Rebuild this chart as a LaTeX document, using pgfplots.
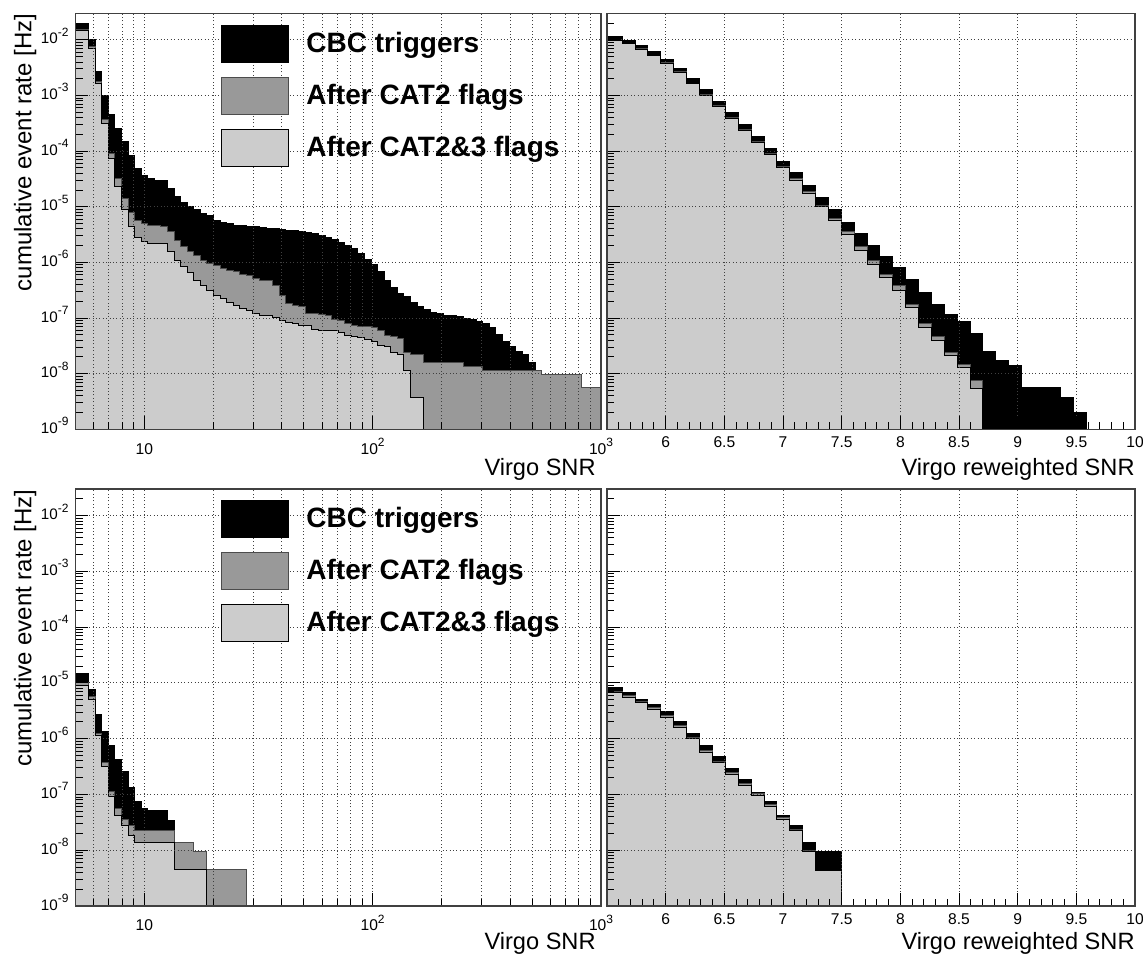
\documentclass[border=0pt]{standalone}
\usepackage{pgfplots}
\pgfplotsset{compat=1.18}
\usepackage{fontspec}
\setmainfont{Liberation Sans}
\definecolor{cMid}{gray}{0.6}
\definecolor{cLight}{gray}{0.8}
\newcommand\supx[1]{\raisebox{0.5em}{\fontsize{6}{6}\selectfont #1}}
\pgfplotsset{every axis/.append style={
    scale only axis,
    axis on top,
    tick align=inside,
    xtick pos=left, ytick pos=left,
    major tick length=6.5pt, minor tick length=3.6pt,
    tick style={black, line width=0.45pt},
    axis line style={black!75, line width=0.8pt},
    major grid style={black!75, line width=0.45pt, dash pattern=on 0.5pt off 1.2pt},
    minor grid style={black!75, line width=0.45pt, dash pattern=on 0.5pt off 1.2pt},
}}
\begin{document}
\begin{tikzpicture}
\path[use as bounding box] (0,0) rectangle (571.5pt,477.5pt);

% ---------------- top left ----------------
\begin{axis}[at={(37.75pt,262.85pt)}, anchor=south west, width=262.75pt, height=208pt,
    xmode=log, ymode=log, xmin=5, xmax=1000, ymin=1e-9, ymax=3e-2,
    ymajorgrids=true, xmajorgrids=true, xminorgrids=true,
    xtick={10,100,1000},
    xticklabels={10,10\supx{2},10\supx{3}},
    minor xtick={6,7,8,9,20,30,40,50,60,70,80,90,200,300,400,500,600,700,800,900},
    xticklabel style={font=\fontsize{7.8}{8}\selectfont, anchor=base, yshift=-12.4pt},
    ytick={1e-9,1e-8,1e-7,1e-6,1e-5,1e-4,1e-3,1e-2},
    yticklabels={10\supx{-9},10\supx{-8},10\supx{-7},10\supx{-6},10\supx{-5},10\supx{-4},10\supx{-3},10\supx{-2}},
    yticklabel style={font=\fontsize{7.6}{8}\selectfont, anchor=base east, yshift=-2pt},
    minor ytick={2e-9,3e-9,4e-9,5e-9,6e-9,7e-9,8e-9,9e-9,2e-8,3e-8,4e-8,5e-8,6e-8,7e-8,8e-8,9e-8,2e-7,3e-7,4e-7,5e-7,6e-7,7e-7,8e-7,9e-7,2e-6,3e-6,4e-6,5e-6,6e-6,7e-6,8e-6,9e-6,2e-5,3e-5,4e-5,5e-5,6e-5,7e-5,8e-5,9e-5,2e-4,3e-4,4e-4,5e-4,6e-4,7e-4,8e-4,9e-4,2e-3,3e-3,4e-3,5e-3,6e-3,7e-3,8e-3,9e-3,2e-2,3e-2},
    legend image code/.code={\draw[#1] (0pt,-9.25pt) rectangle (33.5pt,9.25pt);},
    legend cell align=left,
    legend style={at={(0.276,0.974)}, anchor=north west, draw=none, fill=none,
      inner sep=0pt, row sep=7pt, column sep=6.75pt,
      font=\bfseries\fontsize{14}{16}\selectfont},
  ]
\addplot[fill=black, draw=black, line width=0.5pt, const plot mark left] coordinates {(5,1e-9)(5,1.95e-2)(5.707,1e-2)(6.098,2.69e-3)(6.516,1.02e-3)(6.962,4.47e-4)(7.438,2.57e-4)(7.947,1.48e-4)(8.493,8.51e-5)(9.074,4.90e-5)(9.696,3.63e-5)(10.36,3.24e-5)(11.069,3.02e-5)(12.637,2.09e-5)(13.502,1.51e-5)(14.427,1.20e-5)(15.415,1.00e-5)(16.47,8.91e-6)(17.598,7.59e-6)(18.803,7.08e-6)(20.091,5.62e-6)(21.467,5.13e-6)(22.937,4.90e-6)(24.508,4.68e-6)(26.186,4.57e-6)(27.979,4.37e-6)(31.943,4.27e-6)(34.131,4.07e-6)(38.966,3.98e-6)(41.634,3.80e-6)(44.485,3.72e-6)(47.532,3.55e-6)(50.787,3.39e-6)(54.265,3.24e-6)(57.981,3.09e-6)(61.952,2.82e-6)(66.195,2.63e-6)(70.728,2.24e-6)(75.571,2.04e-6)(80.747,1.78e-6)(86.276,1.45e-6)(92.184,1.15e-6)(98.47,9.33e-7)(105.21,6.76e-7)(112.41,4.79e-7)(120.11,3.55e-7)(128.34,2.75e-7)(137.13,2.40e-7)(146.52,1.91e-7)(156.55,1.58e-7)(167.27,1.41e-7)(178.73,1.26e-7)(190.96,1.20e-7)(204.04,1.12e-7)(218.01,1.10e-7)(232.94,1.05e-7)(248.89,1.00e-7)(265.93,9.55e-8)(284.14,8.71e-8)(303.6,7.94e-8)(324.39,6.76e-8)(346.6,5.01e-8)(370.33,3.80e-8)(395.69,3.02e-8)(422.79,2.51e-8)(451.74,2.19e-8)(482.67,1.62e-8)(515.72,1.15e-8)(551.03,9.55e-9)(819.89,5.62e-9)(1000,5.62e-9)(1000,1e-9)} -- cycle;
\addlegendentry{CBC triggers}
\addplot[fill=cMid, draw=black!70, line width=0.5pt, const plot mark left] coordinates {(5,1e-9)(5,1.51e-2)(5.707,7.59e-3)(6.098,1.78e-3)(6.516,3.63e-4)(6.962,9.12e-5)(7.438,3.24e-5)(7.947,1.41e-5)(8.493,7.94e-6)(9.074,5.62e-6)(9.696,5.01e-6)(10.36,4.68e-6)(11.827,4.47e-6)(12.637,3.55e-6)(13.502,2.51e-6)(14.427,1.95e-6)(15.415,1.55e-6)(16.47,1.32e-6)(17.598,1.10e-6)(18.803,9.55e-7)(20.091,8.71e-7)(21.467,7.76e-7)(22.937,7.24e-7)(24.508,6.76e-7)(26.186,6.17e-7)(27.979,5.75e-7)(29.896,5.13e-7)(31.943,4.79e-7)(36.468,3.89e-7)(38.966,2.51e-7)(41.634,1.82e-7)(44.485,1.66e-7)(47.532,1.58e-7)(50.787,1.20e-7)(57.981,1.17e-7)(61.952,1.12e-7)(66.195,9.55e-8)(70.728,8.91e-8)(75.571,7.94e-8)(80.747,7.41e-8)(86.276,6.92e-8)(98.47,6.76e-8)(105.21,6.03e-8)(112.41,4.90e-8)(120.11,4.57e-8)(128.34,4.27e-8)(137.13,2.45e-8)(146.52,2.24e-8)(167.27,1.62e-8)(178.73,1.58e-8)(248.89,1.32e-8)(303.6,1.12e-8)(551.03,9.55e-9)(819.89,5.62e-9)(1000,5.62e-9)(1000,1e-9)} -- cycle;
\addlegendentry{After CAT2 flags}
\addplot[fill=cLight, draw=black, line width=0.5pt, const plot mark left] coordinates {(5,1e-9)(5,1.45e-2)(5.707,6.92e-3)(6.098,1.62e-3)(6.516,3.09e-4)(6.962,7.24e-5)(7.438,2.34e-5)(7.947,8.91e-6)(8.493,4.47e-6)(9.074,2.75e-6)(9.696,2.34e-6)(10.36,2.19e-6)(12.637,1.55e-6)(13.502,1.10e-6)(14.427,8.32e-7)(15.415,6.46e-7)(16.47,4.79e-7)(17.598,3.80e-7)(18.803,3.09e-7)(20.091,2.57e-7)(21.467,2.24e-7)(22.937,1.91e-7)(24.508,1.66e-7)(26.186,1.48e-7)(27.979,1.38e-7)(29.896,1.23e-7)(31.943,1.12e-7)(34.131,1.10e-7)(36.468,1.02e-7)(38.966,8.91e-8)(41.634,8.32e-8)(44.485,7.94e-8)(47.532,7.41e-8)(50.787,7.24e-8)(54.265,6.31e-8)(57.981,6.03e-8)(70.728,5.50e-8)(75.571,4.90e-8)(80.747,4.57e-8)(86.276,4.47e-8)(92.184,4.17e-8)(98.47,3.72e-8)(105.21,3.24e-8)(112.41,3.02e-8)(120.11,2.45e-8)(128.34,2.24e-8)(137.13,1.12e-8)(146.52,3.72e-9)(167.27,3.72e-9)(167.27,1e-9)} -- cycle;
\addlegendentry{After CAT2\&3 flags}
\end{axis}

% ---------------- top right ----------------
\begin{axis}[at={(303.5pt,262.85pt)}, anchor=south west, width=264pt, height=208pt,
    ymode=log, xmin=5.5, xmax=10, ymin=1e-9, ymax=3e-2,
    ymajorgrids=true, xmajorgrids=true,
    xtick={6,6.5,7,7.5,8,8.5,9,9.5,10},
    xticklabels={6,6.5,7,7.5,8,8.5,9,9.5,10},
    xticklabel style={font=\fontsize{7.8}{8}\selectfont, anchor=base, yshift=-9.2pt},
    minor xtick={5.6,5.7,5.8,5.9,6.1,6.2,6.3,6.4,6.6,6.7,6.8,6.9,7.1,7.2,7.3,7.4,7.6,7.7,7.8,7.9,8.1,8.2,8.3,8.4,8.6,8.7,8.8,8.9,9.1,9.2,9.3,9.4,9.6,9.7,9.8,9.9},
    ytick={1e-9,1e-8,1e-7,1e-6,1e-5,1e-4,1e-3,1e-2},
    yticklabels={},
    minor ytick={2e-9,3e-9,4e-9,5e-9,6e-9,7e-9,8e-9,9e-9,2e-8,3e-8,4e-8,5e-8,6e-8,7e-8,8e-8,9e-8,2e-7,3e-7,4e-7,5e-7,6e-7,7e-7,8e-7,9e-7,2e-6,3e-6,4e-6,5e-6,6e-6,7e-6,8e-6,9e-6,2e-5,3e-5,4e-5,5e-5,6e-5,7e-5,8e-5,9e-5,2e-4,3e-4,4e-4,5e-4,6e-4,7e-4,8e-4,9e-4,2e-3,3e-3,4e-3,5e-3,6e-3,7e-3,8e-3,9e-3,2e-2,3e-2},
  ]
\addplot[fill=black, draw=black, line width=0.5pt, const plot mark left] coordinates {(5.5,1e-9)(5.5,1.15e-2)(5.63,9.77e-3)(5.74,7.76e-3)(5.849,6.17e-3)(5.959,4.47e-3)(6.069,3.02e-3)(6.179,2.00e-3)(6.289,1.26e-3)(6.398,7.76e-4)(6.508,5.01e-4)(6.618,3.02e-4)(6.728,1.86e-4)(6.838,1.12e-4)(6.947,6.61e-5)(7.057,4.07e-5)(7.167,2.45e-5)(7.277,1.48e-5)(7.387,8.91e-6)(7.496,5.25e-6)(7.606,3.31e-6)(7.716,2.00e-6)(7.826,1.26e-6)(7.936,7.94e-7)(8.045,5.01e-7)(8.155,2.88e-7)(8.265,1.78e-7)(8.375,1.17e-7)(8.485,8.71e-8)(8.594,5.37e-8)(8.704,2.51e-8)(8.814,1.74e-8)(8.924,1.38e-8)(9.034,5.62e-9)(9.363,3.72e-9)(9.473,2.00e-9)(9.583,2.00e-9)(9.583,1e-9)} -- cycle;
\addplot[fill=cMid, draw=black!70, line width=0.5pt, const plot mark left] coordinates {(5.5,1e-9)(5.5,9.8e-3)(5.63,8.7e-3)(5.74,6.9e-3)(5.849,5.3e-3)(5.959,3.9e-3)(6.069,2.65e-3)(6.179,1.67e-3)(6.289,1.06e-3)(6.398,6.6e-4)(6.508,4.1e-4)(6.618,2.45e-4)(6.728,1.48e-4)(6.838,9.1e-5)(6.947,5.3e-5)(7.057,3.2e-5)(7.167,1.86e-5)(7.277,1.07e-5)(7.387,6.2e-6)(7.496,3.63e-6)(7.606,1.91e-6)(7.716,1.07e-6)(7.826,6.17e-7)(7.936,3.80e-7)(8.045,1.78e-7)(8.155,7.94e-8)(8.265,4.57e-8)(8.375,2.40e-8)(8.485,1.48e-8)(8.594,7.59e-9)(8.704,7.59e-9)(8.704,1e-9)} -- cycle;
\addplot[fill=cLight, draw=black, line width=0.5pt, const plot mark left] coordinates {(5.5,1e-9)(5.5,9.55e-3)(5.63,8.51e-3)(5.74,6.76e-3)(5.849,5.13e-3)(5.959,3.80e-3)(6.069,2.57e-3)(6.179,1.62e-3)(6.289,1.02e-3)(6.398,6.31e-4)(6.508,3.89e-4)(6.618,2.34e-4)(6.728,1.41e-4)(6.838,8.71e-5)(6.947,5.01e-5)(7.057,3.02e-5)(7.167,1.74e-5)(7.277,1.00e-5)(7.387,5.75e-6)(7.496,3.16e-6)(7.606,1.66e-6)(7.716,9.33e-7)(7.826,5.37e-7)(7.936,3.09e-7)(8.045,1.55e-7)(8.155,6.76e-8)(8.265,3.98e-8)(8.375,2.09e-8)(8.485,1.29e-8)(8.594,5.50e-9)(8.704,5.50e-9)(8.704,1e-9)} -- cycle;
\end{axis}

% ---------------- bottom left ----------------
\begin{axis}[at={(37.75pt,24.5pt)}, anchor=south west, width=262.75pt, height=208.5pt,
    xmode=log, ymode=log, xmin=5, xmax=1000, ymin=1e-9, ymax=3e-2,
    ymajorgrids=true, xmajorgrids=true, xminorgrids=true,
    xtick={10,100,1000},
    xticklabels={10,10\supx{2},10\supx{3}},
    minor xtick={6,7,8,9,20,30,40,50,60,70,80,90,200,300,400,500,600,700,800,900},
    xticklabel style={font=\fontsize{7.8}{8}\selectfont, anchor=base, yshift=-12.4pt},
    ytick={1e-9,1e-8,1e-7,1e-6,1e-5,1e-4,1e-3,1e-2},
    yticklabels={10\supx{-9},10\supx{-8},10\supx{-7},10\supx{-6},10\supx{-5},10\supx{-4},10\supx{-3},10\supx{-2}},
    yticklabel style={font=\fontsize{7.6}{8}\selectfont, anchor=base east, yshift=-2pt},
    minor ytick={2e-9,3e-9,4e-9,5e-9,6e-9,7e-9,8e-9,9e-9,2e-8,3e-8,4e-8,5e-8,6e-8,7e-8,8e-8,9e-8,2e-7,3e-7,4e-7,5e-7,6e-7,7e-7,8e-7,9e-7,2e-6,3e-6,4e-6,5e-6,6e-6,7e-6,8e-6,9e-6,2e-5,3e-5,4e-5,5e-5,6e-5,7e-5,8e-5,9e-5,2e-4,3e-4,4e-4,5e-4,6e-4,7e-4,8e-4,9e-4,2e-3,3e-3,4e-3,5e-3,6e-3,7e-3,8e-3,9e-3,2e-2,3e-2},
    legend image code/.code={\draw[#1] (0pt,-9.25pt) rectangle (33.5pt,9.25pt);},
    legend cell align=left,
    legend style={at={(0.276,0.974)}, anchor=north west, draw=none, fill=none,
      inner sep=0pt, row sep=7pt, column sep=6.75pt,
      font=\bfseries\fontsize{14}{16}\selectfont},
  ]
\addplot[fill=black, draw=black, line width=0.5pt, const plot mark left] coordinates {(5,1e-9)(5,1.48e-5)(5.707,7.76e-6)(6.098,2.75e-6)(6.516,1.32e-6)(6.962,7.41e-7)(7.438,4.17e-7)(7.947,2.63e-7)(8.493,1.32e-7)(9.074,7.41e-8)(9.696,5.62e-8)(10.36,5.13e-8)(12.637,3.39e-8)(13.502,1.35e-8)(16.47,9.33e-9)(18.803,4.57e-9)(27.979,4.57e-9)(27.979,1e-9)} -- cycle;
\addlegendentry{CBC triggers}
\addplot[fill=cMid, draw=black!70, line width=0.5pt, const plot mark left] coordinates {(5,1e-9)(5,1.00e-5)(5.707,5.62e-6)(6.098,1.26e-6)(6.516,3.80e-7)(6.962,1.12e-7)(7.438,5.50e-8)(7.947,3.55e-8)(8.493,2.82e-8)(9.074,2.29e-8)(13.502,1.35e-8)(16.47,9.33e-9)(18.803,4.57e-9)(27.979,4.57e-9)(27.979,1e-9)} -- cycle;
\addlegendentry{After CAT2 flags}
\addplot[fill=cLight, draw=black, line width=0.5pt, const plot mark left] coordinates {(5,1e-9)(5,9.12e-6)(5.707,5.01e-6)(6.098,1.15e-6)(6.516,3.24e-7)(6.962,9.12e-8)(7.438,4.27e-8)(7.947,2.82e-8)(8.493,1.86e-8)(9.074,1.35e-8)(13.502,4.57e-9)(18.803,4.57e-9)(18.803,1e-9)} -- cycle;
\addlegendentry{After CAT2\&3 flags}
\end{axis}

% ---------------- bottom right ----------------
\begin{axis}[at={(303.5pt,24.5pt)}, anchor=south west, width=264pt, height=208.5pt,
    ymode=log, xmin=5.5, xmax=10, ymin=1e-9, ymax=3e-2,
    ymajorgrids=true, xmajorgrids=true,
    xtick={6,6.5,7,7.5,8,8.5,9,9.5,10},
    xticklabels={6,6.5,7,7.5,8,8.5,9,9.5,10},
    xticklabel style={font=\fontsize{7.8}{8}\selectfont, anchor=base, yshift=-9.2pt},
    minor xtick={5.6,5.7,5.8,5.9,6.1,6.2,6.3,6.4,6.6,6.7,6.8,6.9,7.1,7.2,7.3,7.4,7.6,7.7,7.8,7.9,8.1,8.2,8.3,8.4,8.6,8.7,8.8,8.9,9.1,9.2,9.3,9.4,9.6,9.7,9.8,9.9},
    ytick={1e-9,1e-8,1e-7,1e-6,1e-5,1e-4,1e-3,1e-2},
    yticklabels={},
    minor ytick={2e-9,3e-9,4e-9,5e-9,6e-9,7e-9,8e-9,9e-9,2e-8,3e-8,4e-8,5e-8,6e-8,7e-8,8e-8,9e-8,2e-7,3e-7,4e-7,5e-7,6e-7,7e-7,8e-7,9e-7,2e-6,3e-6,4e-6,5e-6,6e-6,7e-6,8e-6,9e-6,2e-5,3e-5,4e-5,5e-5,6e-5,7e-5,8e-5,9e-5,2e-4,3e-4,4e-4,5e-4,6e-4,7e-4,8e-4,9e-4,2e-3,3e-3,4e-3,5e-3,6e-3,7e-3,8e-3,9e-3,2e-2,3e-2},
  ]
\addplot[fill=black, draw=black, line width=0.5pt, const plot mark left] coordinates {(5.5,1e-9)(5.5,8.32e-6)(5.63,6.76e-6)(5.74,5.13e-6)(5.849,4.07e-6)(5.959,3.02e-6)(6.069,2.00e-6)(6.179,1.23e-6)(6.289,7.59e-7)(6.398,4.79e-7)(6.508,2.95e-7)(6.618,1.82e-7)(6.728,1.10e-7)(6.838,7.59e-8)(6.947,4.17e-8)(7.057,2.75e-8)(7.167,1.35e-8)(7.277,9.55e-9)(7.496,9.55e-9)(7.496,1e-9)} -- cycle;
\addplot[fill=cMid, draw=black!70, line width=0.5pt, const plot mark left] coordinates {(5.5,1e-9)(5.5,7.1e-6)(5.63,5.9e-6)(5.74,4.7e-6)(5.849,3.6e-6)(5.959,2.6e-6)(6.069,1.73e-6)(6.179,1.07e-6)(6.289,6.2e-7)(6.398,3.95e-7)(6.508,2.45e-7)(6.618,1.55e-7)(6.728,1.02e-7)(6.838,6.6e-8)(6.947,3.9e-8)(7.057,2.4e-8)(7.167,9.9e-9)(7.277,4.37e-9)(7.496,4.37e-9)(7.496,1e-9)} -- cycle;
\addplot[fill=cLight, draw=black, line width=0.5pt, const plot mark left] coordinates {(5.5,1e-9)(5.5,6.61e-6)(5.63,5.50e-6)(5.74,4.37e-6)(5.849,3.39e-6)(5.959,2.45e-6)(6.069,1.62e-6)(6.179,1.00e-6)(6.289,5.75e-7)(6.398,3.72e-7)(6.508,2.29e-7)(6.618,1.45e-7)(6.728,9.55e-8)(6.838,6.17e-8)(6.947,3.63e-8)(7.057,2.24e-8)(7.167,9.33e-9)(7.277,4.37e-9)(7.496,4.37e-9)(7.496,1e-9)} -- cycle;
\end{axis}

% axis titles
\node[rotate=90, anchor=base east, inner sep=0pt, font=\fontsize{12}{14}\selectfont] at (15.75pt,470.85pt) {cumulative event rate [Hz]};
\node[rotate=90, anchor=base east, inner sep=0pt, font=\fontsize{12}{14}\selectfont] at (15.75pt,233pt) {cumulative event rate [Hz]};
\node[anchor=base east, inner sep=0pt, font=\fontsize{11.8}{14}\selectfont] at (298pt,240pt) {Virgo SNR};
\node[anchor=base east, inner sep=0pt, font=\fontsize{11.8}{14}\selectfont] at (567.5pt,240pt) {Virgo reweighted SNR};
\node[anchor=base east, inner sep=0pt, font=\fontsize{11.8}{14}\selectfont] at (298pt,2.8pt) {Virgo SNR};
\node[anchor=base east, inner sep=0pt, font=\fontsize{11.8}{14}\selectfont] at (567.5pt,2.8pt) {Virgo reweighted SNR};
\end{tikzpicture}
\end{document}
